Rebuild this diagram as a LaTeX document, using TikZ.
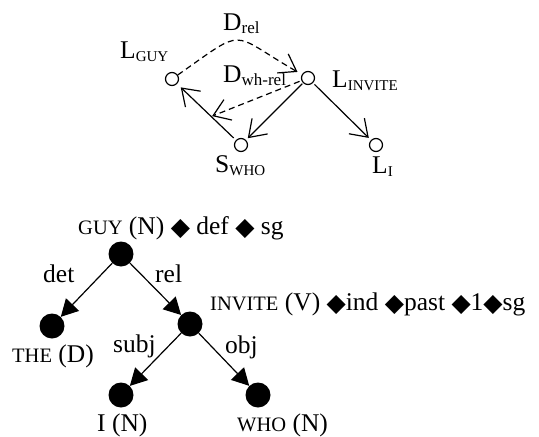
\documentclass[tikz,border=0pt]{standalone}
\usepackage{fontspec}
\setmainfont{Liberation Serif}
\newfontfamily\dvfont{DejaVu Sans}
\usetikzlibrary{arrows.meta}
\newcommand{\dmd}{\raisebox{-1.5pt}{\dvfont\fontsize{25}{25}\selectfont ◆}}
\newcommand{\smcB}[1]{{\fontsize{20.5}{20.5}\selectfont #1}}
\newcommand{\subC}[1]{\raisebox{-3.5pt}{\fontsize{15}{15}\selectfont #1}}
\newcommand{\subL}[1]{\raisebox{-3.5pt}{\fontsize{17}{17}\selectfont #1}}
\begin{document}
\begin{tikzpicture}[x=1pt,y=-1pt,
  every node/.style={font=\fontsize{25.5}{25.5}\selectfont},
  lab/.style={inner sep=0pt,anchor=base west},
  onode/.style={circle,draw,line width=1.2pt,minimum size=13pt,inner sep=0pt},
  fnode/.style={circle,fill=black,minimum size=25pt,inner sep=0pt},
  oarr/.style={line width=1.2pt,-{Straight Barb[length=16pt,width=22pt,line width=1.2pt]}},
  farr/.style={line width=1.2pt,-{Triangle[length=17pt,width=18pt]}},
  dsh/.style={dash pattern=on 6pt off 4pt}]
\useasboundingbox (0,0) rectangle (539,437);
% top graph
\node[onode] (lguy) at (172,79) {};
\node[onode] (linv) at (308,78) {};
\node[onode] (swho) at (241,145) {};
\node[onode] (li) at (376,145) {};
\node[lab] (tlguy) at (120,58) {L\subC{GUY}};
\node[lab] (tdrel) at (223,30) {D\subL{rel}};
\node[lab] (tdwh) at (223,82) {D\subL{wh-rel}};
\node[lab] (tlinv) at (332,87) {L\subC{INVITE}};
\node[lab] (tswho) at (215,172) {S\subC{WHO}};
\node[lab] (tli) at (372,173) {L\subC{I}};
\draw[oarr,shorten <=3pt,shorten >=5pt] (swho) -- coordinate[pos=0.42] (mid) (lguy);
\draw[oarr,shorten <=1pt,shorten >=2.5pt] (linv) -- (swho);
\draw[oarr,shorten <=2pt,shorten >=3pt] (linv) -- (li);
\draw[oarr,dsh,shorten >=5pt] (lguy) to[out=35,in=150,looseness=1.75] (linv);
\draw[oarr,dsh,shorten <=2pt,shorten >=1pt] (linv) -- (mid);
% bottom tree
\node[fnode] (guy) at (121,254) {};
\node[fnode] (the) at (52,326) {};
\node[fnode] (inv) at (190,324) {};
\node[fnode] (i) at (121,395) {};
\node[fnode] (who) at (258,395) {};
\node[lab] (tguy) at (78,234) {\smcB{GUY} (N) \dmd{} def \dmd{} sg};
\node[lab] (tinv) at (210,310) {\smcB{INVITE} (V) \dmd{}ind \dmd{}past \dmd{}1\dmd{}sg};
\node[lab] (tthe) at (12,362) {\smcB{THE} (D)};
\node[lab] (ti) at (97,431) {I (N)};
\node[lab] (twho) at (237,431) {\smcB{WHO} (N)};
\node[lab] (tdet) at (43,282) {det};
\node[lab] (trel) at (155,282) {rel};
\node[lab] (tsubj) at (113,352) {subj};
\node[lab] (tobj) at (225,353) {obj};
\draw[farr] (guy) -- (the);
\draw[farr] (guy) -- (inv);
\draw[farr] (inv) -- (i);
\draw[farr] (inv) -- (who);
\end{tikzpicture}
\end{document}
